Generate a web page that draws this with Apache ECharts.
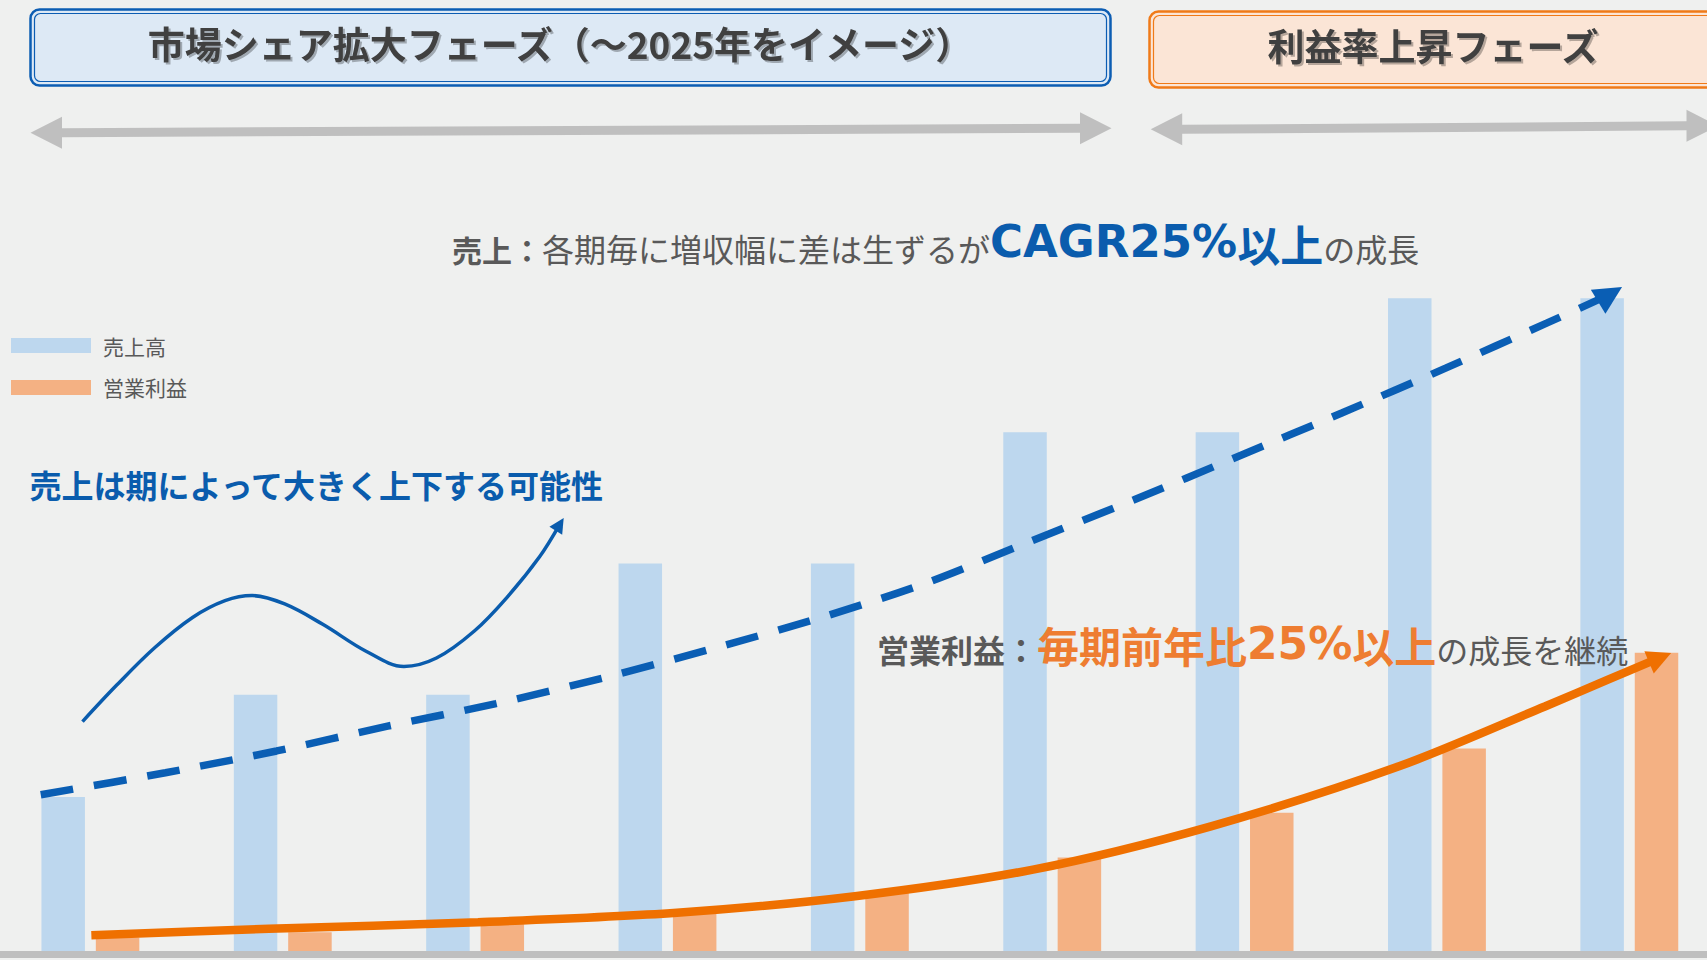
<!DOCTYPE html>
<html lang="ja">
<head>
<meta charset="utf-8">
<title>売上・営業利益 成長イメージ</title>
<script src="https://cdn.jsdelivr.net/npm/echarts@6/dist/echarts.min.js"></script>
<style>
  html, body { margin: 0; padding: 0; background: #eff0ef; }
  #chart { width: 1707px; height: 960px; }
</style>
</head>
<body>
<div id="chart"></div>
<script>
// 期（軸ラベルは非表示）
const periods = ['1', '2', '3', '4', '5', '6', '7', '8', '9']
// 棒グラフの値
const sales = [120, 198, 198, 298, 298, 398, 398, 500, 500]
const profit = [13, 17, 23, 33, 48, 74, 108, 157, 230]

// 線の座標 [期の位置, 値]  期の位置は 0 = 1期の中心
const salesTrend = [
  [-0.258, 121.7], [0.39, 138.5], [0.968, 155.1], [1.545, 174.0], [2.109, 191.2],
  [2.672, 211.0], [3.236, 233.1], [3.799, 256.8], [4.346, 283.1], [4.886, 314.8],
  [5.426, 346.5], [5.966, 379.5], [6.505, 412.6], [7.045, 446.8], [7.57, 481.1],
  [7.9, 503.0],
]
const profitTrend = [
  [0.005, 14.7], [0.928, 19.6], [2.015, 24.6], [3.049, 31.8], [3.975, 44.4],
  [4.9, 64.7], [5.825, 97.7], [6.803, 143.4], [7.561, 189], [7.889, 209.4],
  [8.16, 226.2],
]
const salesSwing = [
  [-0.041, 177.5], [0.137, 205.3], [0.334, 233.7], [0.531, 256.8], [0.7, 269.6],
  [0.841, 273.5], [1.01, 267.1], [1.208, 251.6], [1.433, 231.1], [1.63, 219.5],
  [1.799, 225.9], [1.996, 246.5], [2.166, 272.2], [2.335, 303.1], [2.44, 327.8],
]
// 矢印の先端（最後の短い区間）
const salesTrendHead = [[7.862, 499.6], [7.9, 503.0]]
const profitTrendHead = [[8.12, 223.7], [8.16, 226.2]]
const salesSwingHead = [[2.426, 324.5], [2.44, 327.8]]

const CJK = '"Noto Sans CJK JP", sans-serif'
const WIDE = '"DejaVu Sans", sans-serif'
const gray = '#595959'
const blue = '#0a5cad'
const orange = '#ee7d31'

const myChart = echarts.init(document.getElementById('chart'), null, { renderer: 'svg' })

// 矢印の頭だけ markLine で描く
const arrowHead = (pts, color, width, size) => ({
  silent: true,
  symbol: ['none', 'path://M5,0 L10,12 L0,12 Z'],
  symbolSize: size,
  label: { show: false },
  lineStyle: { color: color, width: width, type: 'solid' },
  emphasis: { disabled: true },
  data: [[{ coord: pts[0] }, { coord: pts[1] }]],
})

// 上部の両矢印（灰色）
const doubleArrow = (x1, y1, x2, y2) => {
  const head = 31.5, half = 16, shaft = 4.5
  return {
    type: 'polygon',
    shape: {
      points: [
        [x1, y1], [x1 + head, y1 - half], [x1 + head, y1 - shaft],
        [x2 - head, y2 - shaft], [x2 - head, y2 - half], [x2, y2],
        [x2 - head, y2 + half], [x2 - head, y2 + shaft],
        [x1 + head, y1 + shaft], [x1 + head, y1 + half],
      ],
    },
    style: { fill: '#bfbfbf' },
  }
}

// フェーズの枠（二重線）
const phaseBox = (x, y, w, h, line, fill) => [
  { type: 'rect', shape: { x: x, y: y, width: w, height: h, r: 9 }, style: { fill: fill, stroke: line, lineWidth: 2.5 } },
  { type: 'rect', shape: { x: x + 4, y: y + 4, width: w - 8, height: h - 8, r: 6 }, style: { fill: 'none', stroke: line, lineWidth: 1.2 } },
]

const boxText = (x, y, text) => ({
  type: 'text',
  x: x,
  y: y,
  style: {
    text: text,
    fontFamily: CJK,
    fontSize: 37,
    fontWeight: 'bold',
    fill: '#404040',
    align: 'center',
    verticalAlign: 'middle',
    textShadowColor: 'rgba(0,0,0,0.28)',
    textShadowOffsetX: 2,
    textShadowOffsetY: 2,
    textShadowBlur: 1,
  },
})

const option = {
  animation: false,
  backgroundColor: '#eff0ef',
  legend: {
    orient: 'vertical',
    left: 11,
    top: 335,
    padding: 0,
    itemWidth: 80,
    itemHeight: 15,
    itemGap: 21,
    icon: 'rect',
    data: ['売上高', '営業利益'],
    textStyle: { fontFamily: CJK, fontSize: 21, color: gray, padding: [0, 0, 0, 7] },
  },
  grid: {
    left: -5.8,
    right: -18.5,
    top: 167.1,
    bottom: 5.5,
    outerBoundsMode: 'none',
  },
  xAxis: [
    {
      type: 'category',
      data: periods,
      z: 3,
      axisLine: { show: true, lineStyle: { color: '#bfbfbf', width: 7 } },
      axisTick: { show: false },
      axisLabel: { show: false },
      splitLine: { show: false },
    },
    {
      // 線を期の間にも置くための数値軸（非表示）
      type: 'value',
      min: -0.5,
      max: 8.5,
      show: false,
    },
  ],
  yAxis: {
    type: 'value',
    min: 0,
    max: 600,
    show: false,
  },
  series: [
    {
      name: '売上高',
      type: 'bar',
      data: sales,
      barWidth: 43.5,
      barGap: '25%',
      itemStyle: { color: '#bdd7ee' },
    },
    {
      name: '営業利益',
      type: 'bar',
      data: profit,
      barWidth: 43.5,
      itemStyle: { color: '#f4b183' },
    },
    {
      name: '売上トレンド',
      type: 'line',
      xAxisIndex: 1,
      data: salesTrend,
      smooth: 0.3,
      showSymbol: false,
      clip: false,
      z: 4,
      lineStyle: { color: '#0a5eb4', width: 7.5, type: [33, 21], cap: 'butt' },
      markLine: arrowHead(salesTrendHead, '#0a5eb4', 7.5, 28),
    },
    {
      name: '営業利益トレンド',
      type: 'line',
      xAxisIndex: 1,
      data: profitTrend,
      smooth: 0.3,
      showSymbol: false,
      clip: false,
      z: 4,
      lineStyle: { color: '#ef7000', width: 8.5 },
      markLine: arrowHead(profitTrendHead, '#ef7000', 8.5, 24),
    },
    {
      name: '売上の上下',
      type: 'line',
      xAxisIndex: 1,
      data: salesSwing,
      smooth: 0.35,
      showSymbol: false,
      clip: false,
      z: 4,
      lineStyle: { color: '#0a5cad', width: 3.5 },
      markLine: arrowHead(salesSwingHead, '#0a5cad', 3.5, 15),
    },
  ],
  graphic: [
    ...phaseBox(30.5, 9.5, 1080, 76, '#0c5db3', '#dde9f5'),
    ...phaseBox(1149.5, 11.5, 620, 76, '#f07a18', '#fbe5d6'),
    boxText(560, 43, '市場シェア拡大フェーズ（～2025年をイメージ）'),
    boxText(1433, 45, '利益率上昇フェーズ'),
    doubleArrow(30.5, 132.7, 1111.5, 128.3),
    doubleArrow(1150.7, 129.3, 1718, 125.8),
    {
      type: 'text',
      x: 452,
      y: 264,
      z: 10,
      style: {
        text: '{a|売上：}{b|各期毎に増収幅に差は生ずるが}{c|CAGR25%}{d|以上}{b|の成長}',
        align: 'left',
        verticalAlign: 'bottom',
        rich: {
          a: { fontFamily: CJK, fontSize: 30, fontWeight: 'bold', fill: gray, verticalAlign: 'bottom' },
          b: { fontFamily: CJK, fontSize: 32, fill: gray, verticalAlign: 'bottom' },
          c: { fontFamily: WIDE, fontSize: 45, fontWeight: 'bold', fill: blue, verticalAlign: 'bottom' },
          d: { fontFamily: CJK, fontSize: 43, fontWeight: 'bold', fill: blue, verticalAlign: 'bottom' },
        },
      },
    },
    {
      type: 'text',
      x: 29.6,
      y: 484,
      z: 10,
      style: {
        text: '売上は期によって大きく上下する可能性',
        fontFamily: CJK,
        fontSize: 32,
        fontWeight: 'bold',
        fill: blue,
        align: 'left',
        verticalAlign: 'middle',
      },
    },
    {
      type: 'text',
      x: 877,
      y: 665,
      z: 10,
      style: {
        text: '{a|営業利益：}{c|毎期前年比}{e|25%}{c|以上}{b|の成長を継続}',
        align: 'left',
        verticalAlign: 'bottom',
        rich: {
          a: { fontFamily: CJK, fontSize: 32, fontWeight: 'bold', fill: gray, verticalAlign: 'bottom' },
          b: { fontFamily: CJK, fontSize: 32, fill: gray, verticalAlign: 'bottom' },
          c: { fontFamily: CJK, fontSize: 42, fontWeight: 'bold', fill: orange, verticalAlign: 'bottom' },
          e: { fontFamily: WIDE, fontSize: 44, fontWeight: 'bold', fill: orange, verticalAlign: 'bottom' },
        },
      },
    },
  ],
}

myChart.setOption(option)
</script>
</body>
</html>
